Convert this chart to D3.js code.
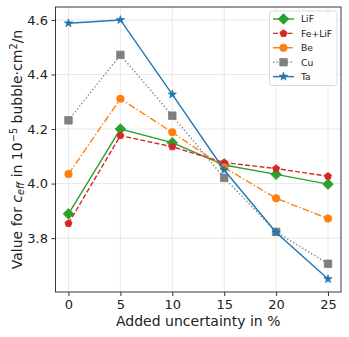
<!DOCTYPE html>
<html>
<head>
<meta charset="utf-8">
<script src="https://cdn.jsdelivr.net/npm/d3@7"></script>
<style>
  body { margin: 0; background: #fff; }
  svg { display: block; font-family: 'DejaVu Sans', sans-serif; }
</style>
</head>
<body>
<div id="draw"></div>
<script>
// data
const uncertainty = [0, 5, 10, 15, 20, 25];
const lif    = [3.889, 4.200, 4.150, 4.068, 4.034, 3.998];
const feLif  = [3.854, 4.176, 4.135, 4.077, 4.055, 4.027];
const be     = [4.035, 4.311, 4.188, 4.059, 3.946, 3.872];
const cu     = [4.232, 4.472, 4.249, 4.021, 3.823, 3.706];
const ta     = [4.588, 4.600, 4.327, 4.050, 3.821, 3.650];
const xTicks = [0, 5, 10, 15, 20, 25];
const yTicks = [3.8, 4.0, 4.2, 4.4, 4.6];

const series = [
    { name: 'LiF', values: lif, color: '#2ca02c', dash: null, marker: 'diamond' },
    { name: 'Fe+LiF', values: feLif, color: '#d62728', dash: '5,2.2', marker: 'pentagon' },
    { name: 'Be', values: be, color: '#ff7f0e', dash: '7,2.2,1.3,2.2', marker: 'circle' },
    { name: 'Cu', values: cu, color: '#7f7f7f', dash: '1.3,2.2', marker: 'square' },
    { name: 'Ta', values: ta, color: '#1f77b4', dash: null, marker: 'star' }
];

// parameters
let width = 349, height = 337;
let margin = { top: 7, left: 55.5, bottom: 45, right: 8 };
let innerW = width - margin.left - margin.right,
    innerH = height - margin.top - margin.bottom;
let msize = 7.5;

// matplotlib-style 5% margins
let allY = [].concat(...series.map(s => s.values));
let yExt = d3.extent(allY), xExt = d3.extent(uncertainty);
let yPad = (yExt[1] - yExt[0]) * 0.05, xPad = (xExt[1] - xExt[0]) * 0.05;

let x = d3.scaleLinear().domain([xExt[0] - xPad, xExt[1] + xPad]).range([0, innerW]);
let y = d3.scaleLinear().domain([yExt[0] - yPad, yExt[1] + yPad]).range([innerH, 0]);

let svg = d3.select('#draw').append('svg').attr('width', width).attr('height', height);
let g = svg.append('g').attr('transform', 'translate(' + margin.left + ',' + margin.top + ')');

// grid
g.append('g').selectAll('line').data(xTicks).enter().append('line')
    .attr('x1', d => x(d)).attr('x2', d => x(d)).attr('y1', 0).attr('y2', innerH)
    .style('stroke', '#e3e3e3').style('stroke-width', 0.8);
g.append('g').selectAll('line').data(yTicks).enter().append('line')
    .attr('y1', d => y(d)).attr('y2', d => y(d)).attr('x1', 0).attr('x2', innerW)
    .style('stroke', '#e3e3e3').style('stroke-width', 0.8);

// axes
let xAxis = g.append('g').attr('transform', 'translate(0,' + innerH + ')')
    .call(d3.axisBottom(x).tickValues(xTicks).tickSize(4).tickPadding(3.5).tickFormat(d3.format('d')));
let yAxis = g.append('g')
    .call(d3.axisLeft(y).tickValues(yTicks).tickSize(4).tickPadding(3.5).tickFormat(d3.format('.1f')));
[xAxis, yAxis].forEach(a => {
    a.select('.domain').remove();
    a.selectAll('line').style('stroke', '#222').style('stroke-width', 0.9);
    a.selectAll('text').style('font-family', 'DejaVu Sans').style('font-size', '13px').style('fill', '#222');
});

// markers
function markerPath(type, s) {
    let r = s / 2;
    if (type === 'circle') return d3.symbol(d3.symbolCircle, Math.PI * r * r)();
    if (type === 'square') return d3.symbol(d3.symbolSquare, s * s)();
    if (type === 'diamond') {
        let h = r * Math.SQRT2;
        return 'M0,' + (-h) + 'L' + h + ',0L0,' + h + 'L' + (-h) + ',0Z';
    }
    let n = 5, pts = [];
    if (type === 'pentagon') {
        for (let i = 0; i < n; i++) {
            let a = -Math.PI / 2 + i * 2 * Math.PI / n;
            pts.push([r * Math.cos(a), r * Math.sin(a)]);
        }
    } else {
        let R = r * 1.15;
        for (let i = 0; i < 2 * n; i++) {
            let a = -Math.PI / 2 + i * Math.PI / n;
            let rr = i % 2 === 0 ? R : R * 0.381966;
            pts.push([rr * Math.cos(a), rr * Math.sin(a)]);
        }
    }
    return 'M' + pts.map(p => p[0].toFixed(2) + ',' + p[1].toFixed(2)).join('L') + 'Z';
}

// lines
let line = d3.line().x((d, i) => x(uncertainty[i])).y(d => y(d));
let plot = g.append('g');
series.forEach(s => {
    plot.append('path')
        .attr('d', line(s.values))
        .style('fill', 'none')
        .style('stroke', s.color)
        .style('stroke-width', 1.4)
        .style('stroke-dasharray', s.dash);
    plot.append('g').selectAll('path').data(s.values).enter().append('path')
        .attr('transform', (d, i) => 'translate(' + x(uncertainty[i]) + ',' + y(d) + ')')
        .attr('d', markerPath(s.marker, msize))
        .style('fill', s.color)
        .style('stroke', s.color)
        .style('stroke-width', 0.8);
});

// frame
g.append('rect').attr('width', innerW).attr('height', innerH)
    .style('fill', 'none').style('stroke', '#222').style('stroke-width', 0.9);

// legend
let lg = svg.append('g').attr('transform', 'translate(269.5,11)');
lg.append('rect').attr('width', 67.5).attr('height', 74.5).attr('rx', 2.5)
    .style('fill', 'rgba(255,255,255,0.8)').style('stroke', '#d0d0d0').style('stroke-width', 0.8);
let items = lg.selectAll('g.item').data(series).enter().append('g')
    .attr('transform', (d, i) => 'translate(0,' + (8 + i * 14.4) + ')');
items.append('line').attr('x1', 3.5).attr('x2', 24.5).attr('y1', 0).attr('y2', 0)
    .style('stroke', d => d.color).style('stroke-width', 1.4).style('stroke-dasharray', d => d.dash);
items.append('path').attr('transform', 'translate(14,0)')
    .attr('d', d => markerPath(d.marker, msize))
    .style('fill', d => d.color).style('stroke', d => d.color).style('stroke-width', 0.8);
items.append('text').attr('x', 31.5).attr('y', 3.3).text(d => d.name)
    .style('font-size', '9.2px').style('fill', '#222');

// axis labels
svg.append('text')
    .attr('x', margin.left + innerW / 2).attr('y', 326)
    .attr('text-anchor', 'middle')
    .style('font-size', '14px').style('fill', '#222')
    .text('Added uncertainty in %');

let yl = svg.append('text')
    .attr('transform', 'translate(21.5,' + (margin.top + innerH / 2) + ') rotate(-90)')
    .attr('text-anchor', 'middle')
    .style('font-size', '14px').style('fill', '#222');
yl.append('tspan').text('Value for ');
yl.append('tspan').text('c').style('font-style', 'italic');
yl.append('tspan').text('eff').style('font-style', 'italic').style('font-size', '9.8px').attr('dy', 2.5);
yl.append('tspan').text(' in 10').attr('dy', -2.5);
yl.append('tspan').text('\u22125').style('font-size', '9.8px').attr('dy', -5);
yl.append('tspan').text(' bubble\u00b7cm').attr('dy', 5);
yl.append('tspan').text('2').style('font-size', '9.8px').attr('dy', -5);
yl.append('tspan').text('/n').attr('dy', 5);
</script>
</body>
</html>
